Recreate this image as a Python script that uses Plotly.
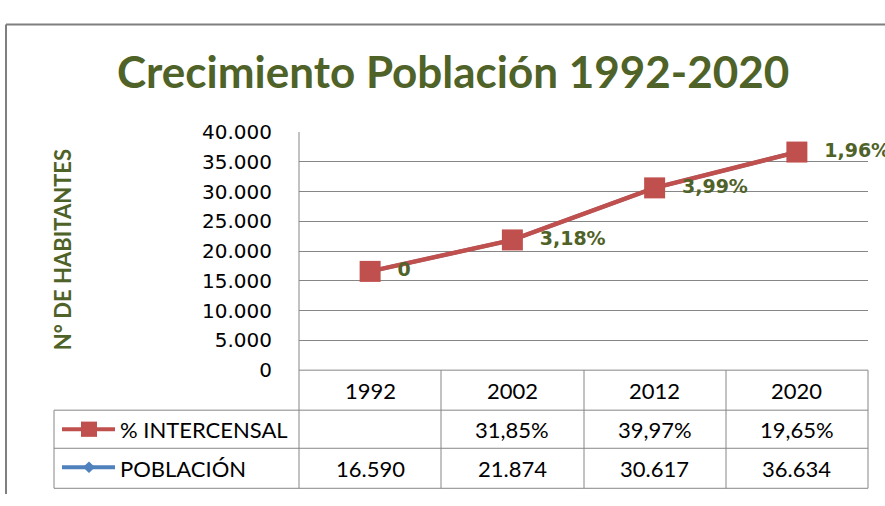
import plotly.graph_objects as go

W, H = 885, 506

years = ["1992", "2002", "2012", "2020"]
poblacion = [16590, 21874, 30617, 36634]
poblacion_txt = ["16.590", "21.874", "30.617", "36.634"]
intercensal_txt = ["", "31,85%", "39,97%", "19,65%"]
tasa_labels = ["0", "3,18%", "3,99%", "1,96%"]
ytick_vals = [0, 5000, 10000, 15000, 20000, 25000, 30000, 35000, 40000]
ytick_text = ["0", "5.000", "10.000", "15.000", "20.000", "25.000", "30.000", "35.000", "40.000"]

RED = "#C0504D"
BLUE = "#4F81BD"
GREEN = "#4F6228"
GRID = "#868686"

def px(x):
    return x / W

def py(y):
    return 1 - y / H

# plot area pixel bounds
L, R, T, B = 299, 868, 126, 376

fig = go.Figure()

fig.add_trace(go.Scatter(
    x=years, y=poblacion, mode="lines+markers", name="POBLACIÓN",
    line=dict(color=BLUE, width=4), marker=dict(symbol="diamond", size=10, color=BLUE),
    showlegend=False, cliponaxis=False, hoverinfo="skip",
))
fig.add_trace(go.Scatter(
    x=years, y=poblacion, mode="lines+markers+text", name="% INTERCENSAL",
    line=dict(color=RED, width=4.5), marker=dict(symbol="square", size=21, color=RED),
    text=tasa_labels, texttemplate="\u00a0\u00a0%{text}", textposition="middle right",
    textfont=dict(family="DejaVu Sans", size=19, color=GREEN, weight="bold"),
    showlegend=False, cliponaxis=False, hoverinfo="skip",
))

shapes = []
def line(x0, y0, x1, y1, color=GRID, width=1):
    shapes.append(dict(type="line", xref="paper", yref="paper",
                       x0=px(x0), y0=py(y0), x1=px(x1), y1=py(y1),
                       line=dict(color=color, width=width), layer="below"))

# outer chart border
line(6, 13, 885, 13, "#7F7F7F", 2)
line(6, 13, 6, 506, "#7F7F7F", 2)

# table lines
col_edges = [299, 441, 584, 726, 868]
line(L, T, L, 500)
for xe in col_edges[1:]:
    line(xe, B, xe, 500)
line(54, 418, 54, 500)
line(L, B, R, B)
for ye in [418, 458, 500]:
    line(54, ye, R, ye)

# legend keys in table
line(62, 438, 115, 438, RED, 4)
shapes.append(dict(type="rect", xref="paper", yref="paper",
                   x0=px(81), x1=px(97), y0=py(446), y1=py(430),
                   fillcolor=RED, line=dict(width=0)))
line(62, 478, 115, 478, BLUE, 4)
shapes.append(dict(type="path", xref="paper", yref="paper",
                   path=f"M {px(89)} {py(472)} L {px(95)} {py(478)} L {px(89)} {py(484)} L {px(83)} {py(478)} Z",
                   fillcolor=BLUE, line=dict(width=0)))

annotations = []
TFONT = dict(family="Lato, sans-serif", size=22, color="#000000")
for i, yr in enumerate(years):
    annotations.append(dict(x=i, xref="x", y=py(397), yref="paper", text=yr,
                            showarrow=False, font=TFONT, xanchor="center", yanchor="middle"))
    if intercensal_txt[i]:
        annotations.append(dict(x=i, xref="x", y=py(438), yref="paper", text=intercensal_txt[i],
                                showarrow=False, font=TFONT, xanchor="center", yanchor="middle"))
    annotations.append(dict(x=i, xref="x", y=py(479), yref="paper", text=poblacion_txt[i],
                            showarrow=False, font=TFONT, xanchor="center", yanchor="middle"))
annotations.append(dict(x=px(118), y=py(438), xref="paper", yref="paper", text="% INTERCENSAL",
                        showarrow=False, font=TFONT, xanchor="left", yanchor="middle"))
annotations.append(dict(x=px(118), y=py(479), xref="paper", yref="paper", text="POBLACIÓN",
                        showarrow=False, font=TFONT, xanchor="left", yanchor="middle"))
# title
annotations.append(dict(x=px(453), y=py(62), xref="paper", yref="paper",
                        text="Crecimiento Población 1992-2020", showarrow=False,
                        font=dict(family="Lato, sans-serif", size=44, color=GREEN, weight="bold"),
                        xanchor="center", yanchor="middle"))
# y axis title
annotations.append(dict(x=px(62), y=py(250), xref="paper", yref="paper",
                        text="N° DE HABITANTES", showarrow=False, textangle=-90,
                        font=dict(family="Lato, sans-serif", size=22, color=GREEN, weight="bold"),
                        xanchor="center", yanchor="middle"))

fig.update_layout(
    width=W, height=H, margin=dict(l=0, r=0, t=0, b=0),
    paper_bgcolor="white", plot_bgcolor="white",
    shapes=shapes, annotations=annotations,
    xaxis=dict(domain=[px(L), px(R)], type="category", categoryorder="array", categoryarray=years,
               range=[-0.5, 3.5], showticklabels=False, showgrid=False, zeroline=False, showline=False),
    yaxis=dict(domain=[py(B), py(T)], range=[0, 40000], tickvals=ytick_vals, ticktext=ytick_text,
               showgrid=True, gridcolor=GRID, gridwidth=1, zeroline=False, showline=False,
               ticks="outside", ticklen=22, tickcolor="rgba(0,0,0,0)",
               tickfont=dict(family="DejaVu Sans", size=20, color="#000000")),
)

fig.write_html("out.html", config={"displayModeBar": False},
               post_script="document.body.style.margin='0';")
